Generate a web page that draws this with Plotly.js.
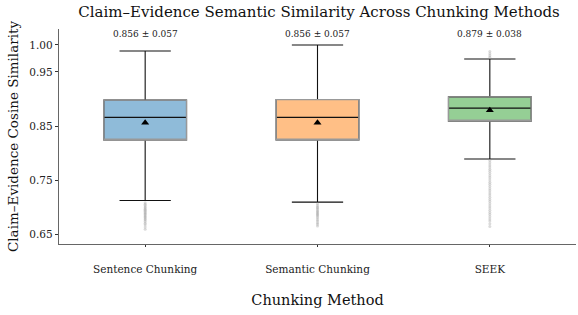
<!DOCTYPE html>
<html>
<head>
<meta charset="utf-8">
<script src="https://cdn.plot.ly/plotly-3.0.1.min.js"></script>
<style>html,body{margin:0;padding:0;background:#fff}#chart{width:578px;height:315px}</style>
</head>
<body>
<div id="chart"></div>
<script>
const categories = ["Sentence Chunking", "Semantic Chunking", "SEEK"];
const q1 = [0.824, 0.824, 0.859];
const medians = [0.866, 0.866, 0.883];
const q3 = [0.898, 0.899, 0.904];
const lowerFence = [0.712, 0.709, 0.789];
const upperFence = [0.989, 1.000, 0.974];
const means = [0.856, 0.856, 0.879];
const stds = [0.057, 0.057, 0.038];
const fills = ["#8FBBD9", "#FFBF86", "#95CF95"];
const outSentence = [0.708,0.705,0.703,0.700,0.698,0.696,0.694,0.692,0.690,0.688,0.686,0.684,0.682,0.680,0.678,0.676,0.673,0.670,0.667,0.663,0.659];
const outSemantic = [0.706,0.703,0.700,0.698,0.696,0.693,0.691,0.689,0.687,0.685,0.683,0.680,0.677,0.674,0.671,0.668,0.665];
const outSeek = [0.786,0.782,0.778,0.774,0.770,0.766,0.762,0.758,0.754,0.750,0.746,0.742,0.738,0.734,0.730,0.726,0.722,0.718,0.714,0.710,0.706,0.702,0.698,0.694,0.690,0.686,0.682,0.678,0.674,0.669,0.664,0.977,0.980,0.984,0.988];

const serif = "DejaVu Serif, serif";
const traces = [];
categories.forEach((c, i) => {
  traces.push({
    type: "box", x: [c], q1: [q1[i]], median: [medians[i]], q3: [q3[i]],
    lowerfence: [lowerFence[i]], upperfence: [upperFence[i]],
    fillcolor: fills[i], line: {color: "#111", width: 1.1},
    width: 0.48, whiskerwidth: 0.62, boxpoints: false, hoverinfo: "skip", showlegend: false
  });
  traces.push({
    type: "box", x: [c], q1: [q1[i]], median: [q1[i]], q3: [q3[i]],
    lowerfence: [q1[i]], upperfence: [q3[i]],
    fillcolor: "rgba(0,0,0,0)", line: {color: "#999", width: 1.3},
    width: 0.48, whiskerwidth: 0, boxpoints: false, hoverinfo: "skip", showlegend: false
  });
});
[outSentence, outSemantic, outSeek].forEach((arr, i) => {
  traces.push({
    type: "scatter", mode: "markers", x: arr.map(() => categories[i]), y: arr,
    marker: {color: "#999", size: 3, opacity: 0.35}, hoverinfo: "skip", showlegend: false
  });
});
traces.push({
  type: "scatter", mode: "markers", x: categories, y: means,
  marker: {symbol: "triangle-up", color: "#000", size: 7}, showlegend: false
});

const annotations = categories.map((c, i) => ({
  x: c, y: 1.021, xref: "x", yref: "y", showarrow: false,
  text: means[i].toFixed(3) + " ± " + stds[i].toFixed(3),
  font: {family: serif, size: 9, color: "#222"}
}));

const layout = {
  width: 578, height: 315,
  margin: {l: 59, r: 2, t: 29, b: 71},
  paper_bgcolor: "#fff", plot_bgcolor: "#fff",
  boxmode: "overlay",
  title: {text: "Claim–Evidence Semantic Similarity Across Chunking Methods",
          font: {family: serif, size: 15, color: "#111"}, x: 0.552, xanchor: "center", y: 0.962, yanchor: "middle"},
  xaxis: {
    type: "category", range: [-0.5, 2.5], showgrid: false, zeroline: false,
    showline: true, linecolor: "#666", linewidth: 1.3,
    ticks: "outside", ticklen: 2, tickcolor: "#333", ticklabelstandoff: 13,
    tickfont: {family: serif, size: 10.5, color: "#222"},
    title: {text: "Chunking Method", font: {family: serif, size: 14.5, color: "#111"}, standoff: 21}
  },
  yaxis: {
    range: [0.6315, 1.0296], showgrid: false, zeroline: false,
    showline: true, linecolor: "#666", linewidth: 1.3,
    tickvals: [0.65, 0.75, 0.85, 0.95, 1.00], ticktext: ["0.65","0.75","0.85","0.95","1.00"],
    ticks: "outside", ticklen: 3, tickcolor: "#333",
    tickfont: {family: serif, size: 10.5, color: "#222"},
    title: {text: "Claim–Evidence Cosine Similarity", font: {family: serif, size: 13.5, color: "#111"}, standoff: 7}
  },
  annotations: annotations
};
Plotly.newPlot("chart", traces, layout, {displayModeBar: false, staticPlot: true});
</script>
</body>
</html>
